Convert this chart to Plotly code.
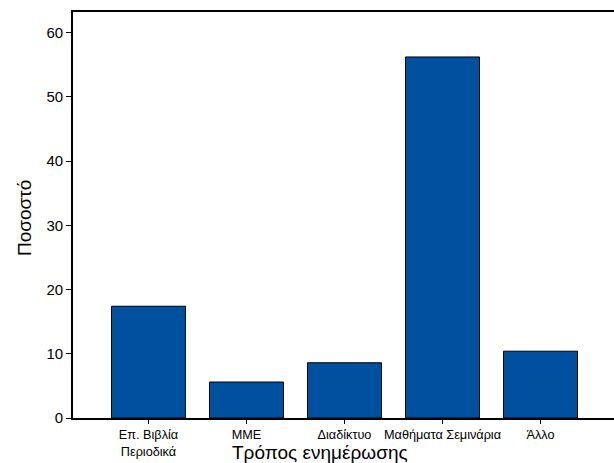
import plotly.graph_objects as go

categories = ["Επ. Βιβλία<br>Περιοδικά", "ΜΜΕ", "Διαδίκτυο", "Μαθήματα Σεμινάρια", "Άλλο"]
percentages = [17.4, 5.6, 8.6, 56.2, 10.4]
y_ticks = [0, 10, 20, 30, 40, 50, 60]

FONT = "Liberation Sans, Arial, sans-serif"

fig = go.Figure(go.Bar(
    x=list(range(len(categories))),
    y=percentages,
    width=0.755,
    marker=dict(color="#0050A0", line=dict(color="black", width=1)),
))

fig.update_layout(
    width=614, height=463,
    margin=dict(l=73, r=0, t=12, b=45, autoexpand=False),
    plot_bgcolor="white", paper_bgcolor="white",
    showlegend=False,
    font=dict(family=FONT, color="black"),
    xaxis=dict(
        range=[-0.77, 4.75], automargin=False,
        tickmode="array", tickvals=list(range(len(categories))), ticktext=categories,
        ticks="outside", ticklen=4, tickcolor="black", tickwidth=1,
        tickfont=dict(size=12.7, family=FONT),
        showline=True, linecolor="black", linewidth=1.7, mirror=True,
        showgrid=False, zeroline=False,
    ),
    yaxis=dict(
        range=[0, 63.2], automargin=False,
        tickmode="array", tickvals=y_ticks,
        ticks="outside", ticklen=5, tickcolor="black", tickwidth=1,
        tickfont=dict(size=15, family=FONT),
        showline=True, linecolor="black", linewidth=1.7, mirror=False,
        showgrid=False, zeroline=False,
    ),
    annotations=[
        dict(text="Τρόπος ενημέρωσης", xref="paper", yref="paper",
             x=(320 - 73) / 541, y=-(452 - 418) / 406, xanchor="center", yanchor="middle",
             showarrow=False, font=dict(size=19, family=FONT)),
        dict(text="Ποσοστό", xref="paper", yref="paper",
             x=-(73 - 25) / 541, y=(418 - 218) / 406, xanchor="center", yanchor="middle",
             textangle=-90, showarrow=False, font=dict(size=19, family=FONT)),
    ],
)

fig.write_html(
    "out.html",
    config={"displayModeBar": False},
    post_script="document.body.style.margin='0';document.body.style.padding='0';",
)
